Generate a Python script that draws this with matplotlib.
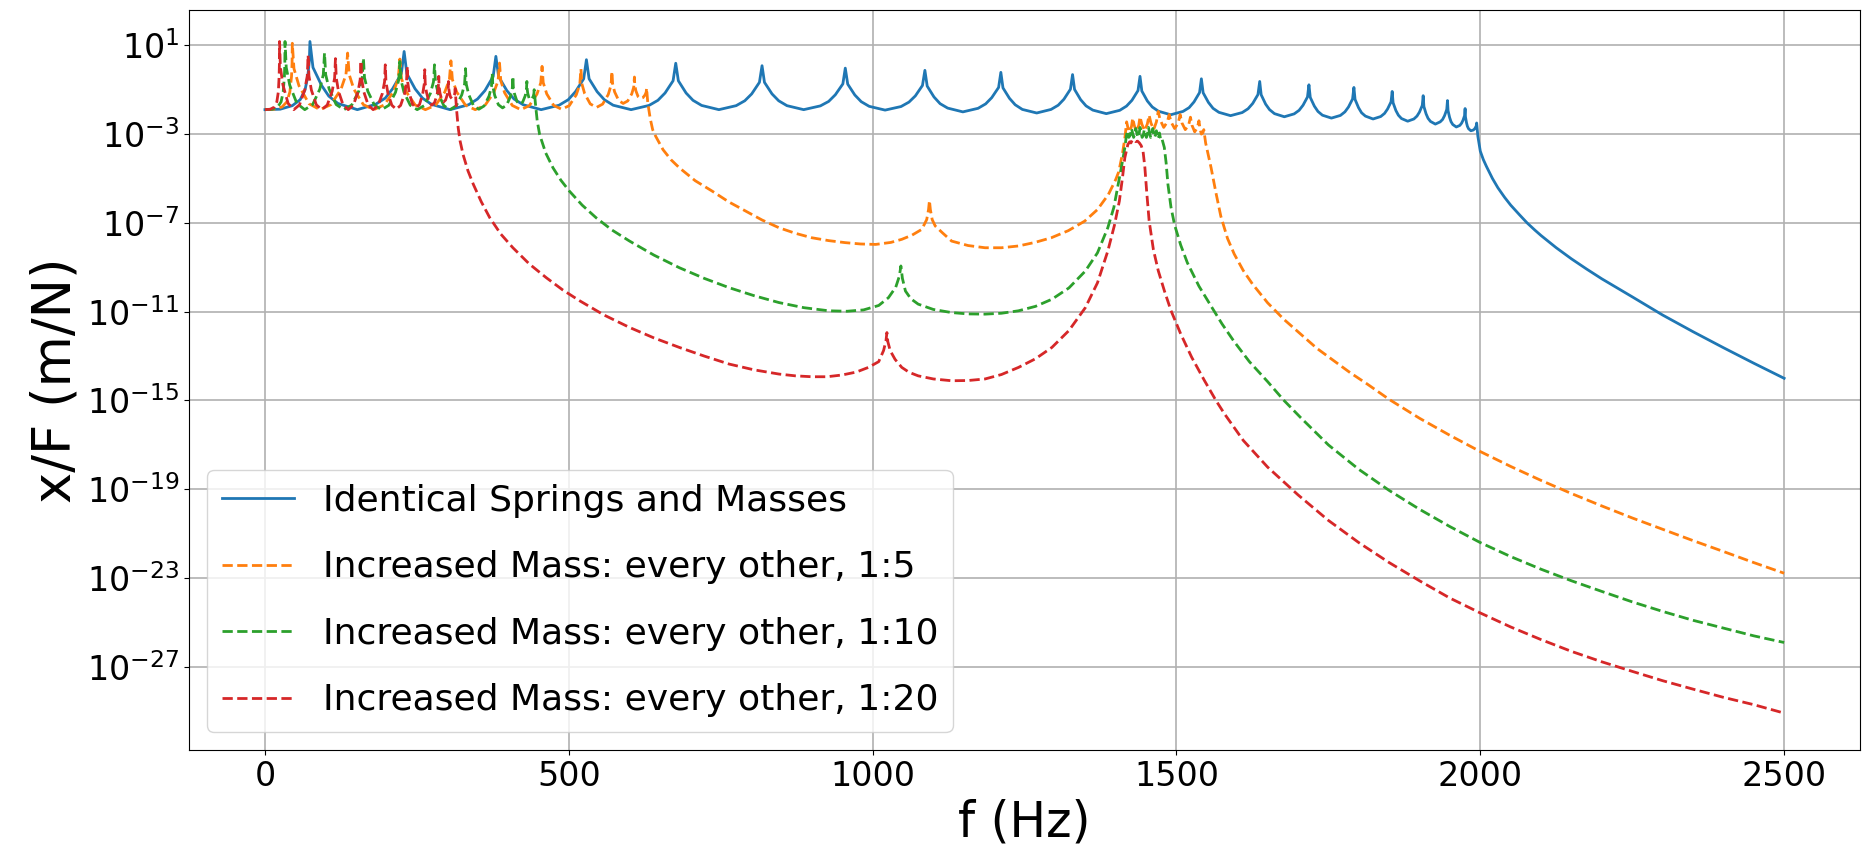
import numpy as np
import matplotlib.pyplot as plt
from matplotlib.ticker import NullLocator

# (frequency in Hz, log10 of x/F in m/N), read point by point
identical = [
    (0, -1.90), (25, -1.88), (45, -1.72), (58, -1.45), (66, -1.00), (70.5, -0.40), (73, 0.30), (74, 1.17),
    (79, 0.00), (93, -0.80), (105, -1.29), (120, -1.62), (152, -1.90), (182, -1.66), (198, -1.38), (210, -0.96), (224.4, -0.28), (229, 0.72),
    (233.5, -0.28), (247, -0.96), (259.2, -1.38), (274, -1.66), (304.5, -1.90), (335, -1.68), (349.8, -1.42), (362, -1.04), (375.5, -0.41), (380, 0.50),
    (384.5, -0.41), (398, -1.04), (409.8, -1.42), (425, -1.68), (454.5, -1.90), (484, -1.70), (499.2, -1.45), (511, -1.09), (524.5, -0.51), (529, 0.35),
    (533.4, -0.51), (546.6, -1.09), (558.4, -1.45), (573, -1.70), (602.5, -1.90), (632, -1.71), (646.6, -1.48), (658.4, -1.15), (671.6, -0.60), (676, 0.19),
    (680.3, -0.60), (693, -1.15), (704.4, -1.48), (718.6, -1.71), (747, -1.90), (775.4, -1.72), (789.6, -1.50), (801, -1.19), (813.7, -0.67), (818, 0.08),
    (822, -0.67), (834.4, -1.19), (845.4, -1.50), (859, -1.72), (886.5, -1.90), (914, -1.73), (927.6, -1.53), (938.6, -1.23), (951, -0.74), (955, -0.03),
    (959, -0.75), (970.7, -1.24), (981.2, -1.54), (994.3, -1.75), (1020.5, -1.92), (1046.7, -1.76), (1059.8, -1.56), (1070.3, -1.28), (1082, -0.81), (1086, -0.13),
    (1089.8, -0.84), (1101, -1.33), (1111, -1.63), (1123.5, -1.83), (1148.5, -2.00), (1173.5, -1.84), (1186, -1.64), (1196, -1.36), (1207.3, -0.90), (1211, -0.22),
    (1214.5, -0.92), (1225.2, -1.39), (1234.6, -1.68), (1246.4, -1.89), (1270, -2.05), (1293.6, -1.89), (1305.4, -1.70), (1314.8, -1.43), (1325.5, -0.98), (1329, -0.32),
    (1332.3, -0.99), (1342.3, -1.45), (1351.2, -1.73), (1362.3, -1.92), (1384.5, -2.08), (1406.7, -1.93), (1417.8, -1.74), (1426.7, -1.48), (1436.7, -1.04), (1440, -0.40),
    (1443, -1.06), (1452.1, -1.51), (1460.2, -1.78), (1470.3, -1.97), (1490.5, -2.13), (1510.7, -1.98), (1520.8, -1.81), (1528.9, -1.55), (1538, -1.13), (1541, -0.51),
    (1543.9, -1.14), (1552.5, -1.57), (1560.2, -1.84), (1569.8, -2.02), (1589, -2.17), (1608.2, -2.03), (1617.8, -1.86), (1625.5, -1.62), (1634.1, -1.22), (1637, -0.63),
    (1639.4, -1.23), (1646.7, -1.65), (1653.2, -1.90), (1661.3, -2.08), (1677.5, -2.22), (1693.7, -2.09), (1701.8, -1.93), (1708.3, -1.70), (1715.6, -1.33), (1718, -0.78),
    (1720.2, -1.35), (1726.9, -1.74), (1732.8, -1.98), (1740.2, -2.15), (1755, -2.28), (1769.8, -2.16), (1777.2, -2.00), (1783.1, -1.78), (1789.8, -1.42), (1792, -0.90),
    (1793.9, -1.44), (1799.6, -1.81), (1804.6, -2.04), (1810.9, -2.19), (1823.5, -2.32), (1836.1, -2.21), (1842.4, -2.07), (1847.4, -1.87), (1853.1, -1.55), (1855, -1.08),
    (1856.5, -1.59), (1861.1, -1.94), (1865.2, -2.15), (1870.3, -2.30), (1880.5, -2.42), (1890.7, -2.32), (1895.8, -2.19), (1899.9, -2.01), (1904.5, -1.71), (1906, -1.27),
    (1907.2, -1.76), (1910.8, -2.09), (1914, -2.29), (1918, -2.43), (1926, -2.55), (1934, -2.45), (1938, -2.34), (1941.2, -2.17), (1944.8, -1.89), (1946, -1.49),
    (1946.9, -1.94), (1949.5, -2.25), (1951.8, -2.44), (1954.7, -2.57), (1960.5, -2.68), (1966.3, -2.61), (1969.2, -2.51), (1971.5, -2.38), (1974.1, -2.17), (1975, -1.85),
    (1975.6, -2.23), (1977.3, -2.49), (1978.8, -2.65), (1980.7, -2.76), (1984.5, -2.85), (1988.3, -2.82), (1990.2, -2.78), (1991.7, -2.72), (1993.4, -2.63), (1994, -2.50),
    (1996, -3.10), (2000, -3.77), (2005, -4.15), (2010, -4.45), (2020, -5.00), (2029, -5.42), (2040, -5.85), (2050, -6.20),
    (2065, -6.65), (2077, -7.00), (2090, -7.33), (2100, -7.57), (2125, -8.12), (2150, -8.62), (2175, -9.08), (2200, -9.52),
    (2250, -10.33), (2300, -11.15), (2350, -11.90), (2400, -12.62), (2450, -13.32), (2500, -14.00),
]

ratio5 = [
    (0, -1.90), (15, -1.88), (28, -1.78), (36, -1.55), (41, -1.10), (43.7, -0.40), (44.6, 0.20), (45, 1.09),
    (47.7, -0.05), (55.9, -0.82), (72.3, -1.63), (90.5, -1.90), (108.7, -1.67), (125.1, -0.98), (133.3, -0.32), (136, 0.65),
    (138.6, -0.32), (146.3, -0.98), (161.8, -1.67), (179, -1.90), (196.2, -1.69), (211.7, -1.08), (219.4, -0.49), (222, 0.38),
    (224.5, -0.49), (232.1, -1.08), (247.2, -1.69), (264, -1.90), (280.8, -1.70), (295.9, -1.11), (303.5, -0.54), (306, 0.30),
    (308.4, -0.54), (315.6, -1.11), (330, -1.70), (346, -1.90), (362, -1.71), (376.4, -1.14), (383.6, -0.60), (386, 0.20),
    (388.1, -0.60), (394.4, -1.14), (407, -1.71), (421, -1.90), (435, -1.72), (447.6, -1.20), (453.9, -0.69), (456, 0.05),
    (457.9, -0.68), (463.7, -1.19), (475.2, -1.71), (488, -1.88), (500.8, -1.72), (512.3, -1.23), (518.1, -0.76), (520, -0.07),
    (521.5, -0.73), (526.1, -1.18), (535.3, -1.64), (545.5, -1.80), (555.7, -1.65), (564.9, -1.22), (569.5, -0.80), (571, -0.18),
    (572.1, -0.73), (575.4, -1.10), (582.1, -1.49), (589.5, -1.62), (596.9, -1.51), (603.6, -1.19), (606.9, -0.88), (608, -0.43),
    (608.6, -0.80), (610.4, -1.05), (614, -1.31), (618, -1.40), (622, -1.36), (625.6, -1.23), (627.4, -1.11), (628, -0.93),
    (630, -1.60), (634, -2.30), (638, -2.80), (643, -3.10), (655, -3.70), (668, -4.15), (682, -4.52), (708, -5.10),
    (736, -5.57), (763, -6.05), (791, -6.47), (818, -6.87), (846, -7.22), (873, -7.47), (900, -7.67), (928, -7.80),
    (955, -7.89), (980, -7.95), (1005, -7.97), (1030, -7.88), (1048, -7.74), (1065, -7.55), (1081, -7.29), (1089, -6.85),
    (1092, -6.40), (1093.5, -5.99), (1095, -6.40), (1098, -6.85), (1103, -7.14), (1115, -7.45), (1130, -7.82), (1157, -8.02),
    (1185, -8.12), (1212, -8.12), (1240, -8.04), (1267, -7.88), (1294, -7.67), (1322, -7.35), (1349, -6.92), (1370, -6.40),
    (1388, -5.72), (1400, -5.05), (1405, -4.70), (1411, -3.90), (1415, -3.20), (1418, -2.45), (1420, -2.70), (1423, -2.90),
    (1426, -2.65), (1428, -2.28), (1430.5, -2.60), (1434, -2.90), (1438, -2.60), (1440, -2.22), (1443, -2.55), (1447.5, -2.85),
    (1452, -2.55), (1455, -2.15), (1458, -2.50), (1462.5, -2.80), (1467, -2.45), (1470, -1.98), (1473, -2.35), (1479, -2.70),
    (1485, -2.45), (1488, -2.12), (1491, -2.45), (1497, -2.75), (1503, -2.50), (1506, -2.12), (1509, -2.50), (1514.5, -2.80),
    (1520, -2.60), (1523, -2.24), (1525.5, -2.60), (1530, -2.90), (1534.5, -2.70), (1537, -2.40), (1539, -2.80), (1541, -3.00),
    (1543.5, -2.95), (1545, -2.80), (1548, -3.40), (1552, -3.90), (1557, -4.52), (1565, -5.65), (1573, -6.70), (1584, -7.70),
    (1595, -8.40), (1610, -9.15), (1625, -9.75), (1650, -10.60), (1677, -11.35), (1704, -12.00), (1731, -12.65), (1759, -13.21),
    (1786, -13.75), (1814, -14.26), (1850, -14.95), (1900, -15.80), (1950, -16.57), (2000, -17.30), (2050, -17.97), (2100, -18.60),
    (2150, -19.19), (2200, -19.75), (2250, -20.29), (2300, -20.80), (2350, -21.31), (2400, -21.80), (2450, -22.30), (2500, -22.78),
]

ratio10 = [
    (0, -1.90), (12, -1.88), (21, -1.78), (26.5, -1.55), (30, -1.10), (32, -0.40), (32.7, 0.20), (33, 1.17),
    (35, 0.00), (40.8, -0.80), (52.5, -1.62), (65.5, -1.90), (78.5, -1.67), (90.2, -0.98), (96, -0.32), (98, 0.65),
    (99.9, -0.32), (105.7, -0.98), (117.2, -1.67), (130, -1.90), (142.8, -1.69), (154.3, -1.07), (160.1, -0.46), (162, 0.42),
    (163.8, -0.46), (169.2, -1.07), (180, -1.69), (192, -1.90), (204, -1.70), (214.8, -1.12), (220.2, -0.55), (222, 0.27),
    (223.7, -0.55), (228.8, -1.12), (239.1, -1.70), (250.5, -1.90), (261.9, -1.72), (272.2, -1.17), (277.3, -0.65), (279, 0.12),
    (280.5, -0.65), (285.1, -1.17), (294.3, -1.72), (304.5, -1.90), (314.7, -1.73), (323.9, -1.23), (328.5, -0.75), (330, -0.05),
    (331.3, -0.75), (335.3, -1.22), (343.2, -1.72), (352, -1.88), (360.8, -1.73), (368.7, -1.29), (372.7, -0.87), (374, -0.25),
    (375, -0.85), (378.1, -1.26), (384.2, -1.68), (391, -1.82), (397.8, -1.69), (403.9, -1.31), (407, -0.94), (408, -0.40),
    (408.7, -0.88), (410.8, -1.20), (414.9, -1.54), (419.5, -1.65), (424.1, -1.56), (428.2, -1.28), (430.3, -1.02), (431, -0.63),
    (431.4, -0.94), (432.4, -1.16), (434.6, -1.38), (437, -1.45), (439.4, -1.41), (441.6, -1.29), (442.6, -1.17), (443, -1.00),
    (445, -1.60), (448, -2.40), (452, -3.02), (462, -3.85), (474, -4.52), (487, -5.08), (501, -5.57), (522, -6.20),
    (545, -6.77), (571, -7.32), (600, -7.82), (640, -8.45), (682, -9.02), (723, -9.50), (764, -9.92), (805, -10.28),
    (846, -10.59), (887, -10.82), (928, -10.96), (958, -10.98), (985, -10.92), (1010, -10.72), (1026, -10.37), (1038, -9.90),
    (1044, -9.40), (1046.5, -8.94), (1049, -9.50), (1054, -10.07), (1063, -10.42), (1075, -10.66), (1100, -10.90), (1130, -11.04),
    (1157, -11.10), (1185, -11.11), (1212, -11.07), (1240, -10.96), (1268, -10.76), (1295, -10.44), (1323, -9.93), (1350, -9.17),
    (1370, -8.35), (1387, -7.22), (1397, -6.30), (1404, -5.27), (1410, -4.40), (1415, -3.62), (1417, -3.20), (1419, -2.85),
    (1421.5, -3.15), (1424, -3.05), (1426, -2.75), (1429.5, -3.15), (1431.5, -3.00), (1433, -2.75), (1436.5, -3.15), (1438.5, -3.00),
    (1440, -2.70), (1443.5, -3.15), (1445.5, -3.05), (1447, -2.80), (1450.5, -3.15), (1452.5, -3.00), (1454, -2.70), (1457.5, -3.15),
    (1459.5, -3.00), (1461, -2.75), (1464, -3.15), (1466, -3.00), (1467, -2.85), (1469.5, -3.20), (1471, -3.10), (1472, -2.95),
    (1474, -3.25), (1476, -3.20), (1480, -3.60), (1483, -4.30), (1486, -5.27), (1491, -6.30), (1497, -7.10), (1507, -8.00),
    (1518, -8.80), (1537, -9.85), (1557, -10.75), (1575, -11.55), (1595, -12.35), (1620, -13.25), (1650, -14.15), (1677, -15.00),
    (1704, -15.76), (1750, -17.00), (1800, -18.10), (1850, -19.05), (1900, -19.90), (1950, -20.68), (2000, -21.40), (2050, -22.03),
    (2100, -22.60), (2150, -23.12), (2200, -23.60), (2250, -24.07), (2300, -24.50), (2350, -24.90), (2400, -25.25), (2450, -25.60),
    (2500, -25.90),
]

ratio20 = [
    (0, -1.90), (9, -1.88), (15.5, -1.78), (19.5, -1.55), (22, -1.10), (23.3, -0.40), (23.8, 0.20), (24, 1.17),
    (25.4, 0.00), (29.6, -0.79), (38.1, -1.62), (47.5, -1.90), (56.9, -1.68), (65.4, -1.02), (69.6, -0.38), (71, 0.55),
    (72.35, -0.38), (76.4, -1.02), (84.5, -1.68), (93.5, -1.90), (102.5, -1.69), (110.6, -1.07), (114.65, -0.47), (116, 0.40),
    (117.3, -0.47), (121, -1.07), (128.6, -1.69), (137, -1.90), (145.4, -1.70), (153, -1.11), (156.7, -0.54), (158, 0.30),
    (159.2, -0.54), (162.8, -1.11), (170, -1.70), (178, -1.90), (186, -1.72), (193.2, -1.17), (196.8, -0.65), (198, 0.12),
    (199.1, -0.64), (202.3, -1.16), (208.8, -1.70), (216, -1.88), (223.2, -1.71), (229.7, -1.19), (232.9, -0.68), (234, 0.05),
    (234.9, -0.66), (237.5, -1.15), (242.7, -1.65), (248.5, -1.82), (254.3, -1.67), (259.5, -1.20), (262.1, -0.75), (263, -0.10),
    (263.7, -0.71), (265.8, -1.12), (269.9, -1.56), (274.5, -1.70), (279.1, -1.58), (283.2, -1.23), (285.3, -0.89), (286, -0.40),
    (286.5, -0.84), (287.9, -1.14), (290.8, -1.45), (294, -1.55), (297.2, -1.47), (300.1, -1.22), (301.5, -0.98), (302, -0.63),
    (302.3, -0.92), (303.3, -1.12), (305.3, -1.33), (307.5, -1.40), (309.7, -1.36), (311.7, -1.24), (312.7, -1.12), (313, -0.95),
    (315, -1.80), (318, -2.72), (321, -3.30), (326, -3.92), (334, -4.65), (343, -5.27), (356, -6.05), (370, -6.77),
    (388, -7.50), (408, -8.12), (435, -8.85), (463, -9.47), (490, -10.02), (518, -10.51), (558, -11.15), (600, -11.71),
    (640, -12.18), (682, -12.61), (723, -13.00), (764, -13.36), (805, -13.62), (846, -13.81), (873, -13.89), (900, -13.93),
    (925, -13.93), (950, -13.85), (973, -13.72), (993, -13.51), (1010, -13.25), (1018, -12.75), (1022, -12.30), (1023.5, -11.94),
    (1025, -12.35), (1029, -12.76), (1037, -13.15), (1048, -13.51), (1060, -13.73), (1075, -13.89), (1100, -14.03), (1130, -14.11),
    (1157, -14.10), (1185, -14.03), (1212, -13.83), (1240, -13.51), (1268, -13.12), (1295, -12.61), (1323, -11.85), (1350, -10.82),
    (1370, -9.70), (1387, -8.27), (1398, -7.10), (1406, -6.02), (1411, -5.00), (1415, -4.07), (1420, -3.47), (1423, -3.35),
    (1425, -3.40), (1427, -3.29), (1429, -3.33), (1431, -3.28), (1433, -3.34), (1436, -3.32), (1439, -3.40), (1442, -3.52),
    (1445, -3.77), (1448, -4.50), (1451, -5.60), (1455, -6.90), (1462, -8.20), (1470, -9.15), (1480, -10.05), (1491, -10.95),
    (1507, -12.00), (1525, -13.05), (1546, -14.10), (1565, -15.00), (1579, -15.60), (1610, -16.80), (1650, -18.00), (1700, -19.25),
    (1750, -20.40), (1800, -21.40), (1850, -22.30), (1900, -23.12), (1950, -23.90), (2000, -24.57), (2050, -25.20), (2100, -25.77),
    (2150, -26.30), (2200, -26.77), (2250, -27.20), (2300, -27.62), (2350, -28.00), (2400, -28.37), (2450, -28.70), (2500, -29.08),
]

labels = ['Identical Springs and Masses',
          'Increased Mass: every other, 1:5',
          'Increased Mass: every other, 1:10',
          'Increased Mass: every other, 1:20']

fig, ax = plt.subplots(figsize=(18.64, 8.67), dpi=100)
fig.subplots_adjust(left=0.1014, right=0.9979, bottom=0.135, top=0.9885)

styles = ['-', '--', '--', '--']
for i, data in enumerate([identical, ratio5, ratio10, ratio20]):
    f, logx = np.array(data).T
    ax.semilogy(f, 10.0 ** logx, styles[i], color='C%d' % i, lw=2, label=labels[i])

ax.set_xlim(-125, 2625)
ax.set_ylim(10.0 ** -30.74, 10.0 ** 2.59)
ax.set_yticks([10.0 ** e for e in range(1, -28, -4)])
ax.yaxis.set_minor_locator(NullLocator())
ax.tick_params(labelsize=24)
ax.grid(True, lw=1.2)

ax.set_xlabel('f (Hz)', fontsize=35)
ax.set_ylabel('x/F (m/N)', fontsize=38)
ax.legend(loc='lower left', fontsize=26, labelspacing=0.9)

fig.savefig('out.png', dpi=100)
